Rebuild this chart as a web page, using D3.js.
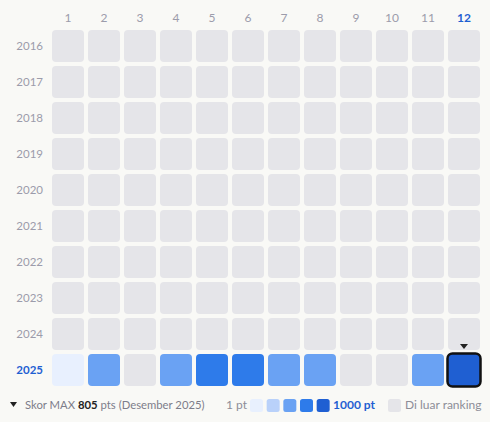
<!DOCTYPE html>
<html><head><meta charset="utf-8">
<script src="https://cdn.jsdelivr.net/npm/d3@7"></script>
<style>
html,body{margin:0;padding:0;background:#f9f9f6;}
svg{display:block;font-family:Lato,"Noto Sans",sans-serif;}
</style></head>
<body><svg id="c" width="490" height="422"></svg>
<script>
const months = [1,2,3,4,5,6,7,8,9,10,11,12];
const years = [2016,2017,2018,2019,2020,2021,2022,2023,2024,2025];
// scores per year (null = outside ranking)
const scores2016 = [null,null,null,null,null,null,null,null,null,null,null,null];
const scores2025 = [90,480,null,500,700,720,490,500,null,null,510,805];
const bucketColors = ["#e8f0fe","#b9d1fa","#6aa2f3","#2e7bea","#1f5fd2"];
const emptyColor = "#e5e5e9";
const legendMinLabel = "1 pt";
const legendMaxLabel = "1000 pt";
const outsideLabel = "Di luar ranking";
const maxScore = 805, maxLabel = "(Desember 2025)";
const current = {year:2025, month:12};

const data = [];
years.forEach(y=>months.forEach((m,i)=>{
  const v = y===2025 ? scores2025[i] : scores2016[i];
  data.push({year:y, month:m, value:v});
}));

const svg = d3.select("#c");
const x = d3.scaleBand().domain(months).range([50,482]).paddingInner(1/9).paddingOuter(1/18);
const y = d3.scaleBand().domain(years).range([28,388]).paddingInner(1/9).paddingOuter(1/18);
const color = d3.scaleQuantize().domain([0,1000]).range(bucketColors);

svg.append("g").selectAll("rect").data(data).join("rect")
  .attr("x",d=>x(d.month)).attr("y",d=>y(d.year))
  .attr("width",x.bandwidth()).attr("height",y.bandwidth())
  .attr("rx",4).attr("fill",d=>d.value==null?emptyColor:color(d.value));

// highlight current
svg.append("rect")
  .attr("x",x(current.month)-0.5).attr("y",y(current.year)-0.5)
  .attr("width",x.bandwidth()+1).attr("height",y.bandwidth()+1)
  .attr("rx",5).attr("fill","none").attr("stroke","#111").attr("stroke-width",2.5);
const tx = x(current.month)+x.bandwidth()/2, ty = y(current.year)-7;
svg.append("path").attr("d",`M${tx-4},${ty-3}L${tx+4},${ty-3}L${tx},${ty+2}Z`).attr("fill","#222");

// axes
const ax = svg.append("g").attr("transform","translate(0,22)")
  .call(d3.axisTop(x).tickSize(0).tickPadding(0));
ax.select(".domain").remove();
ax.selectAll("text").attr("font-size",12).attr("font-family","Lato,'Noto Sans',sans-serif")
  .attr("fill",d=>d===current.month?"#1f5fd2":"#9c9cab")
  .attr("font-weight",d=>d===current.month?700:400);

const ay = svg.append("g").attr("transform","translate(43,0)")
  .call(d3.axisLeft(y).tickSize(0).tickPadding(0));
ay.select(".domain").remove();
ay.selectAll("text").attr("font-size",11.5).attr("font-family","Lato,'Noto Sans',sans-serif")
  .attr("fill",d=>d===current.year?"#1f5fd2":"#9c9cab")
  .attr("font-weight",d=>d===current.year?700:400);

// legend
const ly = 409;
svg.append("path").attr("d",`M10,${ly-7}L17,${ly-7}L13.5,${ly-2}Z`).attr("fill","#222");
const t = svg.append("text").attr("x",25).attr("y",ly).attr("font-size",11.3).attr("fill","#7d7d8a");
t.append("tspan").text("Skor MAX ");
t.append("tspan").text(maxScore).attr("font-weight",700).attr("fill","#222");
t.append("tspan").text(" pts "+maxLabel);

svg.append("text").attr("x",226).attr("y",ly).attr("font-size",12).attr("fill","#8d8d98").text(legendMinLabel);
const ls = d3.scaleBand().domain(d3.range(bucketColors.length)).range([250,330]).paddingInner(0.2);
svg.append("g").selectAll("rect").data(bucketColors).join("rect")
  .attr("x",(d,i)=>ls(i)).attr("y",ly-10).attr("width",13).attr("height",13).attr("rx",2.5).attr("fill",d=>d);
svg.append("text").attr("x",333).attr("y",ly).attr("font-size",12).attr("font-weight",700).attr("fill","#1f5fd2").text(legendMaxLabel);
svg.append("rect").attr("x",388).attr("y",ly-10).attr("width",13).attr("height",13).attr("rx",2.5).attr("fill",emptyColor);
svg.append("text").attr("x",405).attr("y",ly).attr("font-size",12).attr("fill","#8d8d98").text(outsideLabel);
</script></body></html>
